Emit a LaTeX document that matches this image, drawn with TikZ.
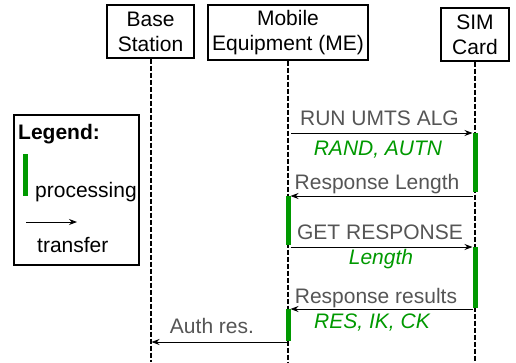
\documentclass[tikz,border=0pt]{standalone}
\usepackage{fontspec}
\setmainfont{Liberation Sans}
\usetikzlibrary{arrows.meta}
\definecolor{procgreen}{HTML}{009900}
\definecolor{msggray}{HTML}{555555}
\tikzset{
	actor/.style={draw, line width=1.2pt, align=center, inner sep=0pt, font=\fontsize{21}{25}\selectfont},
	lifeline/.style={line width=2pt, dash pattern=on 5pt off 2pt},
	proc/.style={fill=procgreen, draw=none},
	msg/.style={line width=0.9pt, -{Stealth[length=8pt,width=6pt]}},
	msglabel/.style={text=msggray, anchor=base, inner sep=0pt, font=\fontsize{21}{25}\selectfont},
	arglabel/.style={text=procgreen, anchor=base, inner sep=0pt, font=\fontsize{21}{25}\selectfont\itshape},
	legendtext/.style={anchor=base west, inner sep=0pt, font=\fontsize{21}{25}\selectfont},
}

\begin{document}
\begin{tikzpicture}[x=1pt, y=-1pt]
		%%%%% START %%%%%
		\useasboundingbox (0, 0) rectangle (516, 362);
		
		\node[actor, minimum width=87pt, minimum height=53pt] (bs) at (150.5, 31.5) {Base\\Station};
		\node[actor, minimum width=160pt, minimum height=55pt] (me) at (288, 32.5) {Mobile\\Equipment (ME)};
		\node[actor, minimum width=68pt, minimum height=53pt] (sim) at (475, 34.5) {SIM\\Card};
		
		\coordinate (bs-end) at (bs.south |- 0, 362);
		\coordinate (me-end) at (me.south |- 0, 362);
		\coordinate (sim-end) at (sim.south |- 0, 362);
		\draw[lifeline] (bs.south) -- (bs-end);
		\draw[lifeline] (me.south) -- (me-end);
		\draw[lifeline] (sim.south) -- (sim-end);
		
		% legend
		\draw[line width=1.2pt] (14, 115) rectangle (139, 265);
		\node[legendtext, font=\fontsize{21}{25}\selectfont\bfseries] (leg-title) at (18, 139) {Legend:};
		\fill[proc] (23, 154) rectangle (28, 196);
		\node[legendtext] (leg-proc) at (35, 197) {processing};
		\coordinate (leg-a) at (26, 222);
		\coordinate (leg-b) at (77, 222);
		\draw[msg] (leg-a) -- (leg-b);
		\node[legendtext] (leg-trans) at (37, 252) {transfer};
		
		% processing bars
		\fill[proc] ([xshift=-2.5pt]sim.south |- 0, 133) rectangle ([xshift=2.5pt]sim.south |- 0, 192);
		\fill[proc] ([xshift=-2.5pt]me.south |- 0, 196) rectangle ([xshift=2.5pt]me.south |- 0, 245);
		\fill[proc] ([xshift=-2.5pt]sim.south |- 0, 247) rectangle ([xshift=2.5pt]sim.south |- 0, 308);
		\fill[proc] ([xshift=-2.5pt]me.south |- 0, 309) rectangle ([xshift=2.5pt]me.south |- 0, 341);
		
		% message end points
		\coordinate (me-1) at (me.south |- 0, 133);
		\coordinate (sim-1) at (sim.south |- 0, 133);
		\coordinate (sim-2) at (sim.south |- 0, 196);
		\coordinate (me-2) at (me.south |- 0, 196);
		\coordinate (me-3) at (me.south |- 0, 247);
		\coordinate (sim-3) at (sim.south |- 0, 247);
		\coordinate (sim-4) at (sim.south |- 0, 309);
		\coordinate (me-4) at (me.south |- 0, 309);
		\coordinate (me-5) at (me.south |- 0, 342);
		\coordinate (bs-5) at (bs.south |- 0, 342);
		
		\draw[msg, shorten <=3pt, shorten >=2.5pt] (me-1) -- (sim-1);
		\node[msglabel] (run) at (379.5, 125) {RUN UMTS ALG};
		\node[arglabel] (rand) at (378, 155) {RAND, AUTN};
		
		\draw[msg, shorten <=2.5pt, shorten >=2.5pt] (sim-2) -- (me-2);
		\node[msglabel] (resplen) at (377, 189) {Response Length};
		
		\draw[msg, shorten <=2.5pt, shorten >=2.5pt] (me-3) -- (sim-3);
		\node[msglabel] (getresp) at (380, 239) {GET RESPONSE};
		\node[arglabel] (len) at (381, 264) {Length};
		
		\draw[msg, shorten <=2.5pt, shorten >=2.5pt] (sim-4) -- (me-4);
		\node[msglabel] (respres) at (376, 303) {Response results};
		\node[arglabel] (res) at (372, 328) {RES, IK, CK};
		
		\draw[msg, shorten >=1pt] (me-5) -- (bs-5);
		\node[msglabel] (auth) at (212, 333) {Auth res.};
		%%%%% END %%%%%
	\end{tikzpicture}
\end{document}
